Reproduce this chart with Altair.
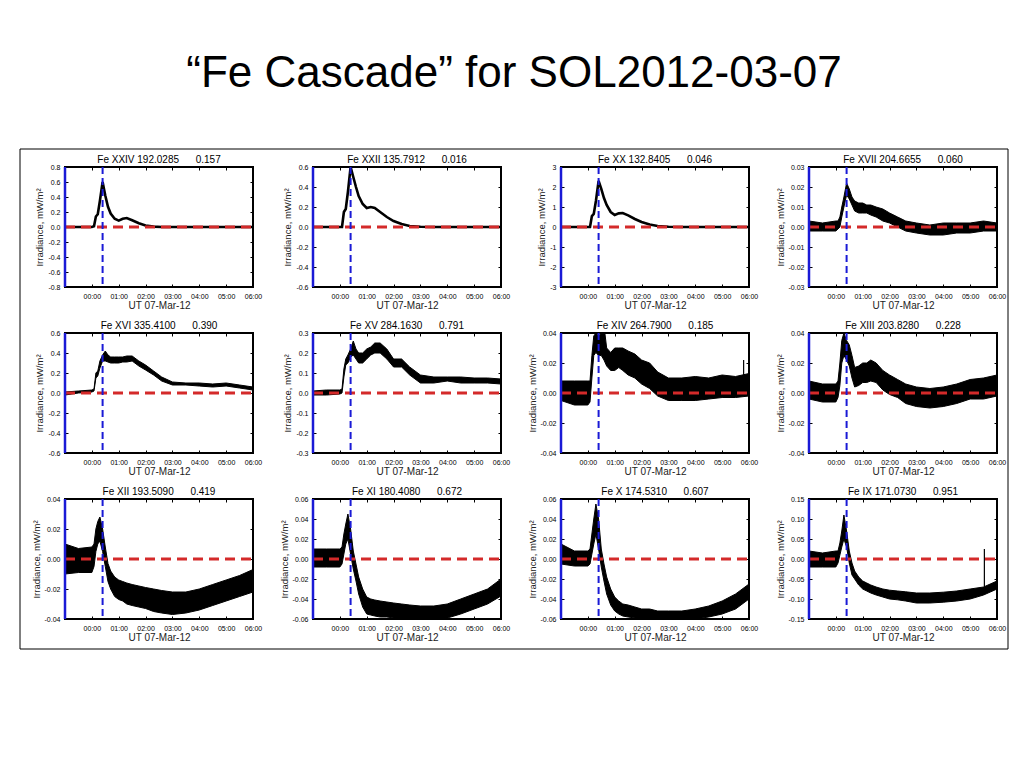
import altair as alt
import pandas as pd

# time in hours relative to 00:00 UT 07-Mar-12
T = [-1.0, -0.5, 0.0, 0.08, 0.15, 0.22, 0.3, 0.4, 0.5, 0.6, 0.7, 0.85, 1.0, 1.15,
     1.3, 1.5, 1.75, 2.0, 2.3, 2.6, 3.0, 3.5, 4.0, 4.5, 5.0, 5.5, 6.0]

LINES = ["Fe XXIV 192.0285", "Fe XXII 135.7912", "Fe XX 132.8405", "Fe XVII 204.6655",
         "Fe XVI 335.4100", "Fe XV 284.1630", "Fe XIV 264.7900", "Fe XIII 203.8280",
         "Fe XII 193.5090", "Fe XI 180.4080", "Fe X 174.5310", "Fe IX 171.0730"]
CORR = ["0.157", "0.016", "0.046", "0.060", "0.390", "0.791", "0.185", "0.228",
        "0.419", "0.672", "0.607", "0.951"]

FE24 = [0, 0, 0, 0.01, 0.14, 0.17, 0.35, 0.60, 0.42, 0.27, 0.18, 0.11, 0.085, 0.11,
        0.12, 0.09, 0.05, 0.02, 0.005, 0, 0, 0, 0, 0, 0, 0, 0]
FE22 = [0, 0, 0, 0.0, 0.15, 0.18, 0.35, 0.60, 0.50, 0.40, 0.31, 0.23, 0.19, 0.20,
        0.19, 0.15, 0.10, 0.06, 0.03, 0.01, 0.003, 0, 0, 0, 0, 0, 0]
FE20 = [0, 0, 0, 0, 0.55, 0.65, 1.3, 2.3, 1.9, 1.45, 1.1, 0.75, 0.6, 0.68,
        0.7, 0.58, 0.4, 0.25, 0.12, 0.05, 0.01, 0, 0, 0, 0, 0, 0]
FE17_LO = [-0.002, -0.002, -0.002, -0.001, 0.0, 0.005, 0.01, 0.016, 0.014, 0.011, 0.008, 0.007, 0.007, 0.007,
           0.006, 0.005, 0.003, 0.002, 0.0, -0.002, -0.003, -0.004, -0.004, -0.003, -0.003, -0.002, -0.002]
FE17_HI = [0.003, 0.002, 0.003, 0.003, 0.005, 0.01, 0.015, 0.022, 0.019, 0.015, 0.013, 0.012, 0.012, 0.011,
           0.011, 0.010, 0.009, 0.007, 0.005, 0.003, 0.002, 0.001, 0.002, 0.002, 0.002, 0.003, 0.002]
FE16_LO = [-0.02, 0.0, 0.01, 0.02, 0.15, 0.17, 0.25, 0.32, 0.32, 0.31, 0.30, 0.30, 0.30, 0.31,
           0.31, 0.32, 0.27, 0.23, 0.18, 0.12, 0.08, 0.08, 0.07, 0.06, 0.07, 0.05, 0.03]
FE16_HI = [0.01, 0.02, 0.03, 0.04, 0.20, 0.22, 0.32, 0.38, 0.42, 0.38, 0.36, 0.36, 0.36, 0.36,
           0.37, 0.37, 0.32, 0.28, 0.22, 0.16, 0.11, 0.10, 0.10, 0.09, 0.10, 0.08, 0.06]
FE15_LO = [-0.01, -0.01, -0.005, 0.0, 0.08, 0.14, 0.15, 0.18, 0.19, 0.17, 0.15, 0.15, 0.17, 0.19,
           0.20, 0.20, 0.17, 0.13, 0.13, 0.09, 0.05, 0.05, 0.06, 0.05, 0.05, 0.05, 0.045]
FE15_HI = [0.01, 0.015, 0.015, 0.02, 0.12, 0.17, 0.19, 0.22, 0.26, 0.22, 0.20, 0.20, 0.22, 0.23,
           0.25, 0.25, 0.22, 0.17, 0.17, 0.13, 0.09, 0.08, 0.08, 0.08, 0.075, 0.075, 0.07]
FE14_LO = [-0.005, -0.008, -0.008, -0.006, 0.01, 0.025, 0.027, 0.025, 0.025, 0.022, 0.018, 0.015, 0.015, 0.017,
           0.015, 0.012, 0.01, 0.006, 0.003, -0.002, -0.005, -0.005, -0.005, -0.004, -0.003, -0.003, -0.002]
FE14_HI = [0.008, 0.008, 0.008, 0.008, 0.025, 0.038, 0.04, 0.038, 0.04, 0.045, 0.03, 0.027, 0.03, 0.03,
           0.03, 0.028, 0.026, 0.022, 0.02, 0.014, 0.01, 0.01, 0.011, 0.01, 0.012, 0.011, 0.013]
FE13_LO = [-0.004, -0.006, -0.006, -0.003, 0.005, 0.02, 0.025, 0.022, 0.018, 0.01, 0.004, 0.005, 0.007, 0.007,
           0.008, 0.007, 0.002, -0.001, -0.003, -0.007, -0.009, -0.01, -0.009, -0.007, -0.004, -0.004, -0.002]
FE13_HI = [0.008, 0.006, 0.006, 0.008, 0.02, 0.035, 0.04, 0.035, 0.032, 0.025, 0.017, 0.018, 0.02, 0.02,
           0.022, 0.02, 0.015, 0.012, 0.009, 0.006, 0.004, 0.003, 0.004, 0.006, 0.009, 0.01, 0.012]
FE12_LO = [-0.01, -0.009, -0.009, -0.005, 0.005, 0.01, 0.012, 0.005, -0.005, -0.015, -0.02, -0.025, -0.027, -0.028,
           -0.03, -0.031, -0.032, -0.033, -0.035, -0.036, -0.037, -0.036, -0.034, -0.031, -0.028, -0.025, -0.022]
FE12_HI = [0.01, 0.007, 0.008, 0.01, 0.02, 0.025, 0.028, 0.02, 0.008, -0.003, -0.008, -0.012, -0.014, -0.015,
           -0.016, -0.017, -0.018, -0.019, -0.02, -0.021, -0.022, -0.022, -0.02, -0.017, -0.014, -0.011, -0.007]
FE11_LO = [-0.008, -0.008, -0.008, -0.005, 0.005, 0.015, 0.02, 0.005, -0.01, -0.022, -0.035, -0.048, -0.055, -0.056,
           -0.057, -0.058, -0.058, -0.059, -0.06, -0.06, -0.06, -0.06, -0.059, -0.055, -0.05, -0.045, -0.037]
FE11_HI = [0.01, 0.01, 0.01, 0.012, 0.025, 0.035, 0.045, 0.03, 0.008, -0.005, -0.018, -0.03, -0.038, -0.04,
           -0.041, -0.042, -0.043, -0.044, -0.045, -0.046, -0.047, -0.047, -0.045, -0.04, -0.035, -0.03, -0.02]
FE10_LO = [-0.005, -0.007, -0.007, -0.005, 0.005, 0.015, 0.025, 0.01, -0.008, -0.022, -0.035, -0.046, -0.052, -0.055,
           -0.057, -0.058, -0.059, -0.06, -0.06, -0.06, -0.06, -0.06, -0.06, -0.058, -0.055, -0.05, -0.04]
FE10_HI = [0.015, 0.008, 0.008, 0.01, 0.025, 0.04, 0.055, 0.04, 0.01, -0.005, -0.018, -0.03, -0.038, -0.042,
           -0.045, -0.046, -0.048, -0.05, -0.05, -0.052, -0.052, -0.052, -0.05, -0.047, -0.042, -0.035, -0.025]
FE9_LO = [-0.02, -0.02, -0.02, -0.01, 0.01, 0.03, 0.05, 0.03, -0.01, -0.04, -0.05, -0.065, -0.075, -0.08,
          -0.085, -0.09, -0.095, -0.1, -0.102, -0.105, -0.11, -0.11, -0.108, -0.105, -0.1, -0.09, -0.075]
FE9_HI = [0.02, 0.015, 0.02, 0.02, 0.04, 0.07, 0.11, 0.07, 0.02, -0.01, -0.03, -0.045, -0.055, -0.06,
          -0.065, -0.07, -0.075, -0.078, -0.08, -0.082, -0.085, -0.085, -0.083, -0.08, -0.075, -0.07, -0.055]

LOWS = [FE24, FE22, FE20, FE17_LO, FE16_LO, FE15_LO, FE14_LO, FE13_LO, FE12_LO, FE11_LO, FE10_LO, FE9_LO]
HIGHS = [FE24, FE22, FE20, FE17_HI, FE16_HI, FE15_HI, FE14_HI, FE13_HI, FE12_HI, FE11_HI, FE10_HI, FE9_HI]

YDOM = [[-0.8, 0.8], [-0.6, 0.6], [-3, 3], [-0.03, 0.03],
        [-0.6, 0.6], [-0.3, 0.3], [-0.04, 0.04], [-0.04, 0.04],
        [-0.04, 0.04], [-0.06, 0.06], [-0.06, 0.06], [-0.15, 0.15]]
YTICKS = [[-0.8, -0.6, -0.4, -0.2, 0.0, 0.2, 0.4, 0.6, 0.8],
          [-0.6, -0.4, -0.2, 0.0, 0.2, 0.4, 0.6],
          [-3, -2, -1, 0, 1, 2, 3],
          [-0.03, -0.02, -0.01, 0.0, 0.01, 0.02, 0.03],
          [-0.6, -0.4, -0.2, 0.0, 0.2, 0.4, 0.6],
          [-0.3, -0.2, -0.1, 0.0, 0.1, 0.2, 0.3],
          [-0.04, -0.02, 0.0, 0.02, 0.04],
          [-0.04, -0.02, 0.0, 0.02, 0.04],
          [-0.04, -0.02, 0.0, 0.02, 0.04],
          [-0.06, -0.04, -0.02, 0.0, 0.02, 0.04, 0.06],
          [-0.06, -0.04, -0.02, 0.0, 0.02, 0.04, 0.06],
          [-0.15, -0.10, -0.05, 0.0, 0.05, 0.10, 0.15]]
YFMT = [".1f", ".1f", "d", ".2f", ".1f", ".1f", ".2f", ".2f", ".2f", ".2f", ".2f", ".2f"]
SMOOTH = [True, True, True] + [False] * 9

# isolated spikes in the traces
SPIKE_PANEL = [11, 6]
SPIKE_T = [5.53, 5.8]
SPIKE_LO = [-0.075, 0.005]
SPIKE_HI = [0.025, 0.022]

XTICKS = [0, 1, 2, 3, 4, 5, 6]
FLARE_PEAK = 0.4  # 00:24 UT

W, H = 188, 120
FONT = "Liberation Sans"


def panel(i):
    df = pd.DataFrame({"t": T, "lo": LOWS[i], "hi": HIGHS[i]})
    xs = alt.Scale(domain=[-1, 6], nice=False, zero=False)
    ys = alt.Scale(domain=YDOM[i], nice=False, zero=False)
    fmt = YFMT[i]
    xaxis = alt.Axis(values=XTICKS, labelExpr="'0' + datum.value + ':00'",
                     title="UT 07-Mar-12", offset=-3, tickSize=3, labelPadding=5,
                     titlePadding=1, domain=False, grid=False,
                     labelFlush=False, labelOverlap=False, labelBound=False)
    yaxis = alt.Axis(values=YTICKS[i],
                     labelExpr="replace(format(datum.value, '%s'), '\u2212', '-')" % fmt,
                     title="Irradiance, mW/m\u00b2", offset=-3, tickSize=3, labelPadding=5,
                     titlePadding=3, domain=False, grid=False,
                     labelFlush=False, labelOverlap=False)
    base = alt.Chart(df)
    sw = 2.6 if SMOOTH[i] else 1.0
    layers = []
    if SMOOTH[i]:
        layers.append(base.mark_line(color="black", strokeWidth=sw, clip=True).encode(
            x=alt.X("t:Q", scale=xs, axis=xaxis),
            y=alt.Y("lo:Q", scale=ys, axis=yaxis)))
    else:
        layers.append(base.mark_area(color="black", clip=True).encode(
            x=alt.X("t:Q", scale=xs, axis=xaxis),
            y=alt.Y("lo:Q", scale=ys, axis=yaxis),
            y2="hi:Q"))
        for col in ["lo", "hi"]:
            layers.append(base.mark_line(color="black", strokeWidth=sw, clip=True).encode(
                x=alt.X("t:Q", scale=xs, axis=None),
                y=alt.Y(col + ":Q", scale=ys, axis=None)))
    for k, p in enumerate(SPIKE_PANEL):
        if p == i:
            sdf = pd.DataFrame({"t": [SPIKE_T[k]], "lo": [SPIKE_LO[k]], "hi": [SPIKE_HI[k]]})
            layers.append(alt.Chart(sdf).mark_rule(color="black", strokeWidth=1.2).encode(
                x=alt.X("t:Q", scale=xs, axis=None),
                y=alt.Y("lo:Q", scale=ys, axis=None), y2="hi:Q"))
    one = pd.DataFrame({"k": [0]})
    # red dashed zero line, carries the top/right tick axes
    layers.append(alt.Chart(one).mark_rule(color="#d42a2a", strokeWidth=3, strokeDash=[10, 6]).encode(
        x=alt.X(datum=-1, scale=xs,
                axis=alt.Axis(orient="top", values=XTICKS, labels=False, title=None,
                              offset=-3, tickSize=3, domain=False, grid=False)),
        x2=alt.X2(datum=6),
        y=alt.Y(datum=0, scale=ys,
                axis=alt.Axis(orient="right", values=YTICKS[i], labels=False, title=None,
                              offset=-3, tickSize=3, domain=False, grid=False))))
    # blue line at window start and blue dashed flare-peak marker
    layers.append(alt.Chart(one).mark_rule(color="#1a1ad6", strokeWidth=2.5).encode(
        x=alt.X(datum=-1, scale=xs, axis=None)))
    layers.append(alt.Chart(one).mark_rule(color="#1a1ad6", strokeWidth=2, strokeDash=[7, 4]).encode(
        x=alt.X(datum=FLARE_PEAK, scale=xs, axis=None)))
    # panel heading
    layers.append(alt.Chart(one).mark_text(
        text=LINES[i] + "\u00a0" * 6 + CORR[i], fontSize=10, font=FONT, color="black",
        align="center", baseline="alphabetic").encode(x=alt.value(W / 2), y=alt.value(-4)))
    if i == 0:
        layers.append(alt.Chart(one).mark_rect(fillOpacity=0, stroke="black", strokeWidth=1).encode(
            x=alt.value(-45), x2=alt.value(943), y=alt.value(-18), y2=alt.value(482)))
    return alt.layer(*layers).resolve_axis(x="independent", y="independent").properties(
        width=W, height=H)


chart = alt.concat(*[panel(i) for i in range(12)], columns=4,
                   spacing={"row": 46, "column": 60}, bounds="flush").properties(
    title=alt.TitleParams("\u201cFe Cascade\u201d for SOL2012-03-07", fontSize=44, font=FONT,
                          fontWeight="normal", anchor="middle", baseline="alphabetic",
                          offset=17, color="black"),
    padding={"left": 10, "top": 43, "right": 5, "bottom": 5},
).configure_view(stroke="black", strokeWidth=2).configure_axis(
    labelFont=FONT, labelFontSize=7, labelColor="black", titleFont=FONT,
    titleFontSize=9.5, titleFontWeight="normal", titleColor="#222", tickColor="black",
    tickWidth=1
).configure_axisX(titleFontSize=10)

chart.save("out.html", embed_options={"renderer": "svg", "actions": False})
